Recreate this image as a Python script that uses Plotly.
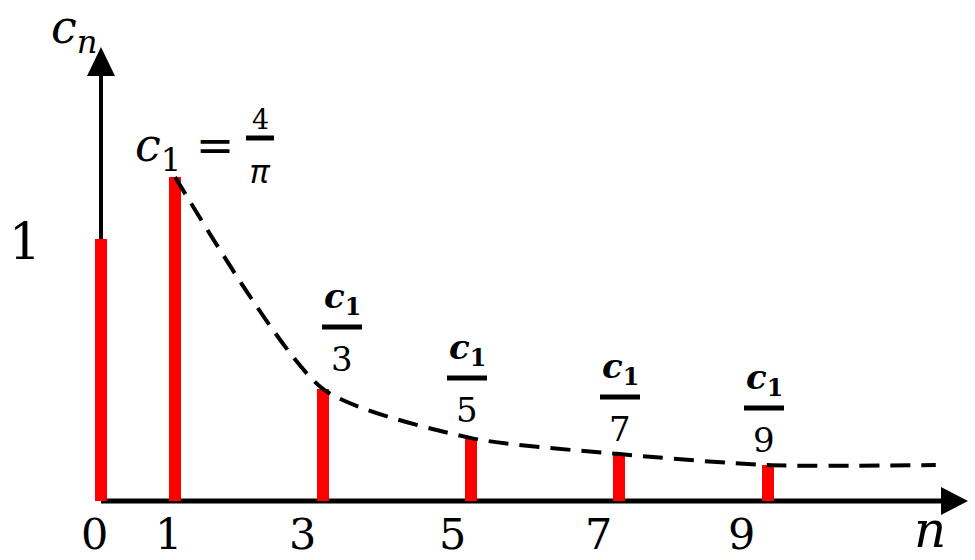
import plotly.graph_objects as go

# ---- data ----
n_vals = [0, 1, 3, 5, 7, 9]
c_vals = [1.0, 1.237, 0.427, 0.240, 0.179, 0.137]
tick_labels = ["0", "1", "3", "5", "7", "9"]
curve_n = [1, 3, 5, 7, 9, 11.27]
curve_c = [1.237, 0.427, 0.240, 0.179, 0.137, 0.137]
frac_den = ["3", "5", "7", "9"]

# ---- pixel <-> data helpers (layout only) ----
X0, XS = 101.0, 74.07   # pixel of n=0, pixels per unit n
Y0, YS = 501.0, 262.0   # pixel of c=0, pixels per unit c
W, H = 975, 560


def X(px):
    return (px - X0) / XS


def Y(py):
    return (Y0 - py) / YS


RED = "#FF0000"
FONT = "DejaVu Serif"

fig = go.Figure()

fig.add_trace(go.Bar(x=n_vals, y=c_vals, width=0.162,
                     marker=dict(color=RED, line=dict(width=0)),
                     hoverinfo="skip", showlegend=False))

fig.add_trace(go.Scatter(x=curve_n, y=curve_c, mode="lines",
                         line=dict(color="black", width=4, dash="20px,11px",
                                   shape="spline", smoothing=0.65),
                         hoverinfo="skip", showlegend=False))

shapes = []
# axes lines
shapes.append(dict(type="line", x0=0, x1=X(946), y0=0, y1=0, layer="below",
                   line=dict(color="black", width=5)))
shapes.append(dict(type="line", x0=0, x1=0, y0=0, y1=Y(72), layer="below",
                   line=dict(color="black", width=4)))
# arrowheads
shapes.append(dict(type="path", xsizemode="pixel", ysizemode="pixel",
                   xanchor=X(968), yanchor=0,
                   path="M0,0 L-27,14 L-27,-14 Z",
                   fillcolor="black", line=dict(width=0)))
shapes.append(dict(type="path", xsizemode="pixel", ysizemode="pixel",
                   xanchor=0, yanchor=Y(47),
                   path="M0,0 L-14,-29 L14,-29 Z",
                   fillcolor="black", line=dict(width=0)))

annotations = []
# x tick labels
tick_px = [94, 168, 302, 452, 598, 741]
for lab, px in zip(tick_labels, tick_px):
    annotations.append(dict(x=X(px), y=0, yref="paper", text=lab, showarrow=False,
                            xanchor="center", yanchor="bottom", yshift=-1,
                            font=dict(family=FONT, size=43, color="black")))
# y tick label "1"
annotations.append(dict(x=X(25), y=Y(242), text="1", showarrow=False,
                        xanchor="center", yanchor="middle",
                        font=dict(family=FONT, size=50, color="black")))
# axis titles
annotations.append(dict(x=X(930), y=0, yref="paper", text="<i>n</i>",
                        showarrow=False, xanchor="center", yanchor="bottom",
                        yshift=-1,
                        font=dict(family=FONT, size=50, color="black")))
annotations.append(dict(x=X(74), y=Y(30), text="<i>c</i><sub><i>n</i></sub>",
                        showarrow=False, xanchor="center", yanchor="middle",
                        font=dict(family=FONT, size=46, color="black")))

# c1 = 4/pi
annotations.append(dict(x=X(184), y=Y(148), text="<i>c</i><sub>1</sub> =",
                        showarrow=False, xanchor="center", yanchor="middle",
                        font=dict(family=FONT, size=46, color="black")))
annotations.append(dict(x=X(260), y=Y(119), text="4", showarrow=False,
                        xanchor="center", yanchor="middle",
                        font=dict(family=FONT, size=27, color="black")))
annotations.append(dict(x=X(260), y=Y(170), text="<i>π</i>", showarrow=False,
                        xanchor="center", yanchor="middle",
                        font=dict(family="Noto Sans", size=32, color="black")))
shapes.append(dict(type="line", x0=X(246), x1=X(274), y0=Y(138), y1=Y(138),
                   line=dict(color="black", width=5)))

# c1/k fractions: (center px, fraction bar py)
frac_pos = [(342, 327), (467, 378), (620, 397), (764, 408)]
for den, (cx, by) in zip(frac_den, frac_pos):
    shapes.append(dict(type="line", x0=X(cx - 20), x1=X(cx + 20),
                       y0=Y(by), y1=Y(by),
                       line=dict(color="black", width=5)))
    annotations.append(dict(x=X(cx), y=Y(by - 4), text="<b><i>c</i><sub>1</sub></b>",
                            showarrow=False, xanchor="center", yanchor="bottom",
                            font=dict(family=FONT, size=34, color="black")))
    annotations.append(dict(x=X(cx), y=Y(by + 32), text=den,
                            showarrow=False, xanchor="center", yanchor="middle",
                            font=dict(family=FONT, size=34, color="black")))

fig.update_layout(
    width=W, height=H,
    margin=dict(l=0, r=0, t=0, b=0),
    paper_bgcolor="white", plot_bgcolor="white",
    xaxis=dict(range=[X(0), X(W)], visible=False, fixedrange=True),
    yaxis=dict(range=[Y(H), Y(0)], visible=False, fixedrange=True),
    shapes=shapes, annotations=annotations,
    bargap=0,
)

fig.write_html("out.html", config={"displayModeBar": False},
               post_script="document.body.style.margin='0';"
                           "document.body.style.overflow='hidden';")
